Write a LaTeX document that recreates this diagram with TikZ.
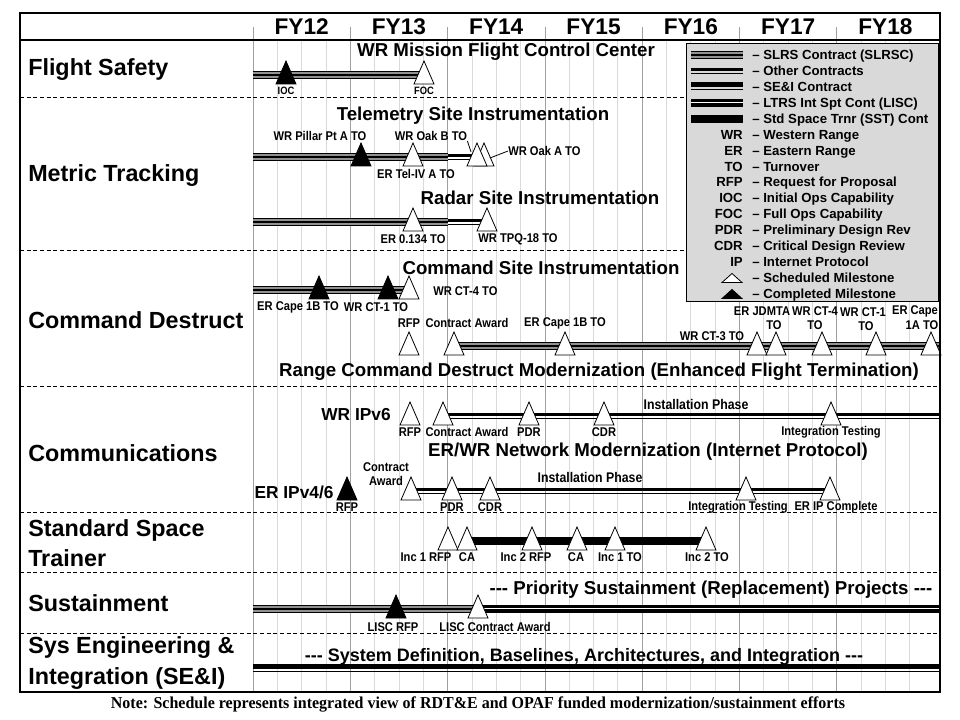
\documentclass[tikz,border=0pt]{standalone}
\usepackage{fontspec}
\setmainfont{Liberation Sans}
\newfontfamily\narrowsans{Liberation Sans}[FakeStretch=0.88, Ligatures=TeX]
\newfontfamily\legendsans{Liberation Sans}[Ligatures=TeX]
\newfontfamily\notefont{Liberation Serif}[FakeStretch=0.96, Ligatures=TeX]
\usetikzlibrary{calc}

\definecolor{panelgray}{RGB}{217,217,217}
\definecolor{gridminor}{RGB}{218,218,218}
\definecolor{gridmajor}{RGB}{160,160,160}
\definecolor{slrsgray}{RGB}{145,145,145}

% three plain hyphens, kept apart so they do not merge into a dash
\newcommand\hyphens{\mbox{-}\mbox{-}\mbox{-}}

% contract bar types (all bars are horizontal)
\newcommand\barSLRS[2]{%
  \draw[line width=5.4pt] (#1) -- (#2);
  \draw[line width=3.9pt, slrsgray] (#1) -- (#2);
  \draw[line width=0.8pt] (#1) -- (#2);}
\newcommand\barOther[2]{%
  \draw[line width=2.25pt, transform canvas={yshift=1.1pt}] (#1) -- (#2);
  \draw[line width=1.1pt, transform canvas={yshift=-1.7pt}] (#1) -- (#2);}
\newcommand\barSEI[2]{%
  \draw[line width=3.75pt, transform canvas={yshift=1.9pt}] (#1) -- (#2);
  \draw[line width=1.1pt, transform canvas={yshift=-1.7pt}] (#1) -- (#2);}
\newcommand\barLISC[2]{%
  \draw[line width=5.4pt] (#1) -- (#2);
  \draw[line width=0.8pt, white, transform canvas={yshift=0.3pt}] (#1) -- (#2);}
\newcommand\barSST[2]{%
  \draw[line width=6pt] (#1) -- (#2);}

\tikzset{
  rowlabel/.style={anchor=west, align=left, inner sep=0pt, font=\fontsize{17.5}{23}\selectfont\bfseries},
  fylabel/.style={inner sep=0pt, font=\fontsize{17}{20}\selectfont\bfseries},
  title/.style={inner sep=0pt, font=\fontsize{14}{17}\selectfont\bfseries},
  bigtitle/.style={inner sep=0pt, font=\fontsize{14}{17}\selectfont\bfseries},
  sublabel/.style={inner sep=0pt, font=\fontsize{13}{15}\selectfont\bfseries},
  mlabel/.style={inner sep=0pt, align=center, font=\narrowsans\fontsize{9.5}{10.5}\selectfont\bfseries},
  tinylabel/.style={inner sep=0pt, font=\narrowsans\fontsize{8}{9}\selectfont\bfseries},
  phase/.style={inner sep=0pt, font=\narrowsans\fontsize{10.5}{12}\selectfont\bfseries},
  legtext/.style={anchor=base west, inner sep=0pt, font=\legendsans\fontsize{9.9}{11}\selectfont\bfseries},
  legabbr/.style={anchor=base east, inner sep=0pt, font=\legendsans\fontsize{9.9}{11}\selectfont\bfseries},
  notetext/.style={inner sep=0pt, font=\notefont\fontsize{12.5}{14}\selectfont\bfseries},
  leader/.style={line width=0.6pt},
  rowrule/.style={line width=0.75pt, dash pattern=on 3pt off 2pt},
  minorgrid/.style={gridminor, line width=0.6pt},
  majorgrid/.style={gridmajor, line width=0.6pt},
  plan/.pic={\draw[fill=white, line width=0.6pt, line join=miter] (-10,9) -- (0,-14) -- (10,9) -- cycle;},
  done/.pic={\draw[fill=black, line width=0.6pt, line join=miter] (-10,9) -- (0,-14) -- (10,9) -- cycle;},
  legplan/.pic={\draw[fill=white, line width=0.6pt] (-10,4.5) -- (0,-4.5) -- (10,4.5) -- cycle;},
  legdone/.pic={\draw[fill=black, line width=0.6pt] (-10,4.5) -- (0,-4.5) -- (10,4.5) -- cycle;},
}

\begin{document}
\begin{tikzpicture}[x=0.75pt, y=-0.75pt]
\useasboundingbox (0,0) rectangle (960,720);
\fill[white] (0,0) rectangle (960,720);

% ---------- time grid: quarters and fiscal years ----------
\foreach \k in {1,...,27}
  \draw[minorgrid] ({253+24.325*\k},40) -- ({253+24.325*\k},692);
\foreach \k in {0,...,6}
  \draw[majorgrid] ({253+97.3*\k},27) -- ({253+97.3*\k},692);

% ---------- header ----------
\foreach \y [count=\i from 0] in {12,...,18}
  \node[fylabel] (fy\y) at ({301.65+97.3*\i},27) {FY\y};
\draw[line width=1.2pt] (20,40) -- (940,40);

% ---------- row separators ----------
\foreach \y in {98,251,386,512,572,633}
  \draw[rowrule] (20,\y) -- (940,\y);

% ---------- row labels ----------
\node[rowlabel] (rFS)  at (28,70)  {Flight Safety};
\node[rowlabel] (rMT)  at (28,176) {Metric Tracking};
\node[rowlabel] (rCD)  at (28,320) {Command Destruct};
\node[rowlabel] (rCOM) at (28,453) {Communications};
\node[rowlabel] (rSST) at (28,543) {Standard Space\\Trainer};
\node[rowlabel] (rSUS) at (28,603) {Sustainment};
\node[rowlabel] (rSEI) at (28,663) {Sys Engineering \&\\Integration (SE\&I)};

% ---------- Flight Safety ----------
\node[title] (tFS) at (506,52) {WR Mission Flight Control Center};
\coordinate (fsA) at (253,75);
\coordinate (fsIOC) at (286,75);
\coordinate (fsFOC) at (424,75);
\barSLRS{fsA}{fsFOC}
\pic at (fsIOC) {done};
\pic at (fsFOC) {plan};
\node[tinylabel] (lIOC) at (286,91) {IOC};
\node[tinylabel] (lFOC) at (424,91) {FOC};

% ---------- Metric Tracking: telemetry ----------
\node[title] (tTM) at (473,116) {Telemetry Site Instrumentation};
\coordinate (tmA) at (253,157);
\coordinate (tmB) at (448,157);
\coordinate (tmPil) at (361,157);
\coordinate (tmTel) at (413,157);
\coordinate (tmOakB) at (477,157);
\coordinate (tmOakA) at (484,157);
\barSLRS{tmA}{tmB}
\barOther{tmB}{tmOakB}
\pic at (tmPil) {done};
\pic at (tmTel) {plan};
\pic at (tmOakA) {plan};
\pic at (tmOakB) {plan};
\node[mlabel] (lPil) at (320,136) {WR Pillar Pt A TO};
\node[mlabel] (lOakB) at (431,136) {WR Oak B TO};
\node[mlabel] (lTel) at (416,174) {ER Tel-IV A TO};
\node[mlabel, anchor=west] (lOakA) at (508,151) {WR Oak A TO};
\coordinate (oakBedge) at (471,152);
\coordinate (oakAedge) at (490,158);
\draw[leader] (lOakB.south east) -- (oakBedge);
\draw[leader] (lOakA.west) -- (oakAedge);

% ---------- Metric Tracking: radar ----------
\node[title] (tRD) at (540,198) {Radar Site Instrumentation};
\coordinate (rdA) at (253,222);
\coordinate (rdB) at (448,222);
\coordinate (rdER) at (413,222);
\coordinate (rdWR) at (487,222);
\barSLRS{rdA}{rdB}
\barOther{rdB}{rdWR}
\pic at (rdER) {plan};
\pic at (rdWR) {plan};
\node[mlabel] (lRdER) at (413,239) {ER 0.134 TO};
\node[mlabel] (lRdWR) at (518,239) {WR TPQ-18 TO};

% ---------- Command Destruct: site instrumentation ----------
\node[title] (tCS) at (541,268) {Command Site Instrumentation};
\coordinate (csA) at (253,290);
\coordinate (csCape) at (319,290);
\coordinate (csCT1) at (388,290);
\coordinate (csCT4) at (409,290);
\barSLRS{csA}{csCT4}
\pic at (csCape) {done};
\pic at (csCT1) {done};
\pic at (csCT4) {plan};
\node[mlabel] (lCsCape) at (298,307) {ER Cape 1B TO};
\node[mlabel] (lCsCT1) at (376,307) {WR CT-1 TO};
\node[mlabel, anchor=west] (lCsCT4) at (433,291) {WR CT-4 TO};

% ---------- Command Destruct: modernization ----------
\coordinate (rcRFP) at (409,346);
\coordinate (rcCA) at (454,346);
\coordinate (rcCape) at (565,346);
\coordinate (rcCT3) at (757,346);
\coordinate (rcJD) at (776,346);
\coordinate (rcCT4) at (822,346);
\coordinate (rcCT1) at (876,346);
\coordinate (rcCape1A) at (931,346);
\coordinate (rcEnd) at (940,346);
\barSLRS{rcCA}{rcEnd}
\foreach \m in {rcRFP,rcCA,rcCape,rcCT3,rcJD,rcCT4,rcCT1,rcCape1A}
  \pic at (\m) {plan};
\node[mlabel] (lRcRFP) at (409,323) {RFP};
\node[mlabel] (lRcCA) at (467,323) {Contract Award};
\node[mlabel] (lRcCape) at (565,323) {ER Cape 1B TO};
\node[mlabel] (lRcCT3) at (712,336) {WR CT-3 TO};
\node[mlabel] (lRcJDa) at (762,311) {ER JDMTA};
\node[mlabel] (lRcJDb) at (774,325) {TO};
\node[mlabel] (lRcCT4a) at (815,311) {WR CT-4};
\node[mlabel] (lRcCT4b) at (815,325) {TO};
\node[mlabel] (lRcCT1a) at (863,312) {WR CT-1};
\node[mlabel] (lRcCT1b) at (866,326) {TO};
\node[mlabel] (lRcC1Aa) at (915,311) {ER Cape};
\node[mlabel] (lRcC1Ab) at (922,325) {1A TO};
\node[bigtitle] (tRC) at (599,372) {Range Command Destruct Modernization (Enhanced Flight Termination)};

% ---------- Communications: WR IPv6 ----------
\node[sublabel] (tWR6) at (356,415) {WR IPv6};
\coordinate (w6RFP) at (410,416);
\coordinate (w6CA) at (443,416);
\coordinate (w6PDR) at (529,416);
\coordinate (w6CDR) at (604,416);
\coordinate (w6IT) at (831,416);
\coordinate (w6End) at (940,416);
\barOther{w6CA}{w6End}
\foreach \m in {w6RFP,w6CA,w6PDR,w6CDR,w6IT}
  \pic at (\m) {plan};
\node[phase] (lW6Ph) at (696,404) {Installation Phase};
\node[mlabel] (lW6RFP) at (410,432) {RFP};
\node[mlabel] (lW6CA) at (467,432) {Contract Award};
\node[mlabel] (lW6PDR) at (529,432) {PDR};
\node[mlabel] (lW6CDR) at (604,432) {CDR};
\node[mlabel] (lW6IT) at (831,432) {Integration Testing};
\node[bigtitle] (tNet) at (648,452) {ER/WR Network Modernization (Internet Protocol)};

% ---------- Communications: ER IPv4/6 ----------
\node[sublabel] (tER46) at (294,492) {ER IPv4/6};
\coordinate (e4RFP) at (347,491);
\coordinate (e4CA) at (411,491);
\coordinate (e4PDR) at (452,491);
\coordinate (e4CDR) at (490,491);
\coordinate (e4IT) at (746,491);
\coordinate (e4IP) at (830,491);
\barOther{e4CA}{e4IP}
\pic at (e4RFP) {done};
\foreach \m in {e4CA,e4PDR,e4CDR,e4IT,e4IP}
  \pic at (\m) {plan};
\node[phase] (lE4Ph) at (590,477) {Installation Phase};
\node[mlabel] (lE4CA) at (386,474) {Contract\\Award};
\node[mlabel] (lE4RFP) at (347,507) {RFP};
\node[mlabel] (lE4PDR) at (452,507) {PDR};
\node[mlabel] (lE4CDR) at (490,507) {CDR};
\node[mlabel] (lE4IT) at (738,507) {Integration Testing};
\node[mlabel] (lE4IP) at (836,507) {ER IP Complete};

% ---------- Standard Space Trainer ----------
\coordinate (stR1) at (448,541);
\coordinate (stC1) at (467,541);
\coordinate (stR2) at (532,541);
\coordinate (stC2) at (577,541);
\coordinate (stT1) at (615,541);
\coordinate (stT2) at (706,541);
\barSST{stC1}{stT2}
\foreach \m in {stR1,stC1,stR2,stC2,stT1,stT2}
  \pic at (\m) {plan};
\node[mlabel] (lStR1) at (426,557) {Inc 1 RFP};
\node[mlabel] (lStC1) at (467,557) {CA};
\node[mlabel] (lStR2) at (526,557) {Inc 2 RFP};
\node[mlabel] (lStC2) at (576,557) {CA};
\node[mlabel] (lStT1) at (620,557) {Inc 1 TO};
\node[mlabel] (lStT2) at (707,557) {Inc 2 TO};

% ---------- Sustainment ----------
\node[bigtitle] (tSus) at (711,590) {\hyphens\ Priority Sustainment (Replacement) Projects \hyphens};
\coordinate (suA) at (253,609);
\coordinate (suRFP) at (396,609);
\coordinate (suCA) at (478,609);
\coordinate (suEnd) at (940,609);
\barSLRS{suA}{suCA}
\barLISC{suCA}{suEnd}
\pic at (suRFP) {done};
\pic at (suCA) {plan};
\node[mlabel] (lSuRFP) at (393,627) {LISC RFP};
\node[mlabel] (lSuCA) at (495,627) {LISC Contract Award};

% ---------- SE&I ----------
\node[bigtitle, font=\fontsize{13.5}{16}\selectfont\bfseries] (tSEI) at (584,657) {\hyphens\ System Definition, Baselines, Architectures, and Integration \hyphens};
\coordinate (seA) at (253,669);
\coordinate (seEnd) at (940,669);
\barSEI{seA}{seEnd}

% ---------- legend ----------
\draw[fill=panelgray, line width=0.75pt] (686,44) rectangle (938,302);
\coordinate (lg1a) at (691,55);   \coordinate (lg1b) at (743,55);
\coordinate (lg2a) at (691,71);   \coordinate (lg2b) at (743,71);
\coordinate (lg3a) at (691,87);   \coordinate (lg3b) at (743,87);
\coordinate (lg4a) at (691,103);  \coordinate (lg4b) at (743,103);
\coordinate (lg5a) at (691,119);  \coordinate (lg5b) at (743,119);
\barSLRS{lg1a}{lg1b}
\barOther{lg2a}{lg2b}
\barSEI{lg3a}{lg3b}
\barLISC{lg4a}{lg4b}
\barSST{lg5a}{lg5b}
\node[legtext] (lg1) at (752,59.5)  {– SLRS Contract (SLRSC)};
\node[legtext] (lg2) at (752,75.5)  {– Other Contracts};
\node[legtext] (lg3) at (752,91.5)  {– SE\&I Contract};
\node[legtext] (lg4) at (752,107.5) {– LTRS Int Spt Cont (LISC)};
\node[legtext] (lg5) at (752,123.5) {– Std Space Trnr (SST) Cont};
\foreach \ab/\txt [count=\i from 0] in {WR/Western Range, ER/Eastern Range, TO/Turnover,
    RFP/Request for Proposal, IOC/Initial Ops Capability, FOC/Full Ops Capability,
    PDR/Preliminary Design Rev, CDR/Critical Design Review, IP/Internet Protocol}{
  \node[legabbr] (lga\i) at (743,{139.2+15.93*\i}) {\ab};
  \node[legtext] (lgt\i) at (752,{139.2+15.93*\i}) {– \txt};
}
\coordinate (lgS) at (732,278);
\coordinate (lgC) at (732,294);
\pic at (lgS) {legplan};
\pic at (lgC) {legdone};
\node[legtext] (lgSt) at (752,282.5) {– Scheduled Milestone};
\node[legtext] (lgCt) at (752,298.5) {– Completed Milestone};

% ---------- frame and note ----------
\draw[line width=1.5pt] (20,13) rectangle (940,692);
\node[notetext] (note) at (478,704) {Note: Schedule represents integrated view of RDT\&E and OPAF funded modernization/sustainment efforts};
\end{tikzpicture}
\end{document}
